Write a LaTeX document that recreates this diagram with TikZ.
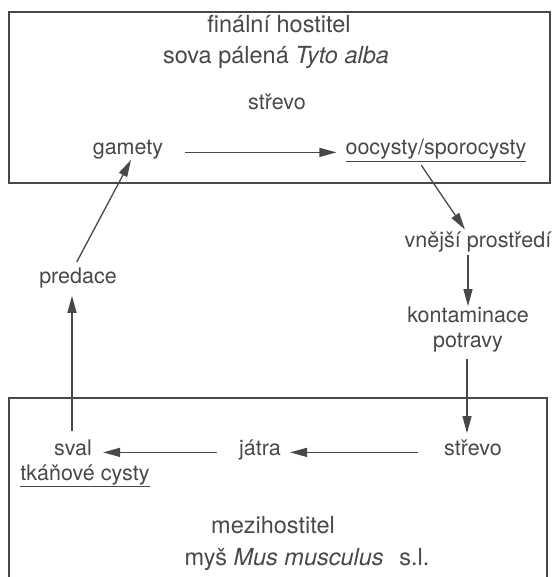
\documentclass[tikz,border=0pt]{standalone}
\usepackage{fontspec}
\setmainfont{TeX Gyre Heros}
\usetikzlibrary{arrows.meta}
\definecolor{ink}{HTML}{484848}

\begin{document}
\begin{tikzpicture}[x=1pt,y=-1pt,
    txt/.style={font=\fontsize{21.5}{26}\selectfont, text=ink, inner sep=0pt, anchor=base},
    ttl/.style={txt, font=\fontsize{23.5}{28}\selectfont},
    ln/.style={draw=ink, line width=1.3pt},
    arr/.style={ln, -{Triangle[length=17pt,width=9pt]}},
    box/.style={draw=ink, line width=2pt}]
  \useasboundingbox (0,0) rectangle (554,577);
  % the two hosts
  \draw[box] (9,12) rectangle (550,183);
  \draw[box] (9,580) -- (9,398) -- (547,398) -- (547,580);
  % finalni hostitel
  \node[ttl] (fin) at (279,33) {finální hostitel};
  \node[ttl] (sova) at (276,64) {sova pálená \textit{Tyto alba}};
  \node[txt] (strA) at (277,110) {střevo};
  \node[txt] (gam) at (128,155) {gamety};
  \node[txt] (ooc) at (436,155) {\underline{oocysty/sporocysty}};
  % outside
  \node[txt] (vne) at (478,247) {vnější prostředí};
  \node[txt] (kont) at (468,322) {kontaminace};
  \node[txt] (potr) at (468,347) {potravy};
  \node[txt] (pred) at (78,283) {predace};
  % mezihostitel
  \node[txt] (strB) at (473,455) {střevo};
  \node[txt] (jat) at (260,455) {játra};
  \node[txt] (sval) at (73,455) {sval};
  \node[txt] (tkan) at (85,480) {\underline{tkáňové cysty}};
  \node[ttl] (mezi) at (273,533) {mezihostitel};
  \node[ttl] (mys) at (307,565) {myš \textit{Mus musculus}\hspace{9pt} s.l.};
  % cycle
  \draw[arr, shorten <=22pt, shorten >=9pt] (gam.mid east) -- (ooc.mid west);
  \draw[arr, shorten <=4pt, shorten >=2pt] ([xshift=-17pt]ooc.south) -- ([xshift=-12pt]vne.north);
  \draw[arr, shorten <=3pt] (vne.south -| kont.north) -- (kont.north);
  \draw[arr, shorten <=7pt, shorten >=6pt] ([xshift=-1pt]potr.south) -- ([xshift=-1pt]potr.south |- strB.north);
  \draw[arr, shorten <=26pt, shorten >=9pt] (strB.mid west) -- (jat.mid east);
  \draw[arr, shorten <=22pt, shorten >=11pt] (jat.mid west) -- (sval.mid east);
  \draw[arr, shorten <=8pt, shorten >=8pt] ([xshift=-1pt]sval.north) -- ([xshift=-1pt]sval.north |- pred.south);
  \draw[arr, shorten <=6pt] ([xshift=-4pt]pred.north) -- ([xshift=3pt]gam.south);
\end{tikzpicture}
\end{document}
